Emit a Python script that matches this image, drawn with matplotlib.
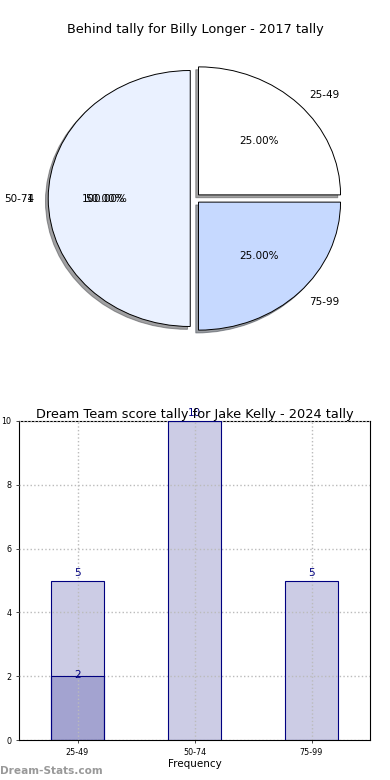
import matplotlib
matplotlib.use("Agg")
import matplotlib.pyplot as plt
import numpy as np

# Pie data
pie_labels = ["25-49", "50-74", "75-99"]
pie_values = [1, 2, 1]
pie_colors = ["#ffffff", "#eaf1ff", "#c6d9ff"]

# Bar data
bar_categories = ["25-49", "50-74", "75-99"]
bar_total = [5, 10, 5]
bar_sub = [2, 0, 0]
y_ticks = [0, 2, 4, 6, 8, 10]

fig = plt.figure(figsize=(3.9, 7.8), dpi=100)

# ---------- Pie ----------
ax1 = fig.add_axes([17/390, (780-358.5)/780, 355/390, 320/780])
wedges, texts, autotexts = ax1.pie(
    pie_values, labels=pie_labels, colors=pie_colors, autopct="%.2f%%",
    startangle=0, explode=[0.04, 0.03, 0.04],
    shadow=dict(ox=-0.014, oy=-0.016, shade=0.72),
    wedgeprops=dict(edgecolor="black", linewidth=0.7),
    textprops=dict(fontsize=7.5))
ax1.set_aspect("auto")
ax1.set_xlim(-1.25, 1.25)
ax1.set_ylim(-1.25, 1.25)
# overlapping duplicate texts as in the reference
x0, y0 = autotexts[1].get_position()
ax1.text(x0, y0, "100.00%", ha="center", va="center", fontsize=7.5)
lx, ly = texts[1].get_position()
ax1.text(lx - 0.005, ly, "1", ha="right", va="center", fontsize=7.5)
fig.text(0.5, 1 - 30/780, "Behind tally for Billy Longer - 2017 tally",
         ha="center", va="center", fontsize=9.3)

# ---------- Bars ----------
ax2 = fig.add_axes([19/390, (780-740)/780, 351/390, 319/780])
x = np.arange(len(bar_categories))
ax2.bar(x, bar_total, width=0.45, color="navy", alpha=0.2, zorder=2)
ax2.bar(x, bar_total, width=0.45, facecolor="none", edgecolor="navy", linewidth=0.8, zorder=3)
sub_x = [xi for xi, v in zip(x, bar_sub) if v > 0]
sub_v = [v for v in bar_sub if v > 0]
ax2.bar(sub_x, sub_v, width=0.45, color="navy", alpha=0.2, zorder=2)
ax2.bar(sub_x, sub_v, width=0.45, facecolor="none", edgecolor="navy", linewidth=0.8, zorder=3)
for xi, v in zip(x, bar_total):
    ax2.text(xi, v + 0.08, str(v), ha="center", va="bottom", color="navy", fontsize=7.5)
for xi, v in zip(sub_x, sub_v):
    ax2.text(xi, v - 0.12, str(v), ha="center", va="bottom", color="navy", fontsize=7.5)
ax2.set_xlim(-0.5, 2.5)
ax2.set_ylim(0, 10)
ax2.set_xticks(x)
ax2.set_xticklabels(bar_categories, fontsize=5.8)
ax2.set_yticks(y_ticks)
ax2.set_yticklabels([str(t) for t in y_ticks], fontsize=5.8)
ax2.tick_params(length=2, width=0.5, direction="out")
ax2.grid(True, linestyle=":", color="#bbbbbb", linewidth=1.0, zorder=1)
ax2.set_axisbelow(False)
for s in ax2.spines.values():
    s.set_linewidth(0.8)
ax2.set_xlabel("Frequency", fontsize=7.5, labelpad=2)
ax2.set_ylabel("Tally count", fontsize=6, labelpad=2)
ax2.yaxis.set_label_coords(-0.05, 0.5)
ax2.set_title("Dream Team score tally for Jake Kelly - 2024 tally", fontsize=9.3, pad=1)
fig.text(0.0, 1 - 771/780, "Dream-Stats.com", ha="left", va="center",
         fontsize=7.6, color="#999999", fontweight="semibold")

fig.savefig("out.png", dpi=100)
